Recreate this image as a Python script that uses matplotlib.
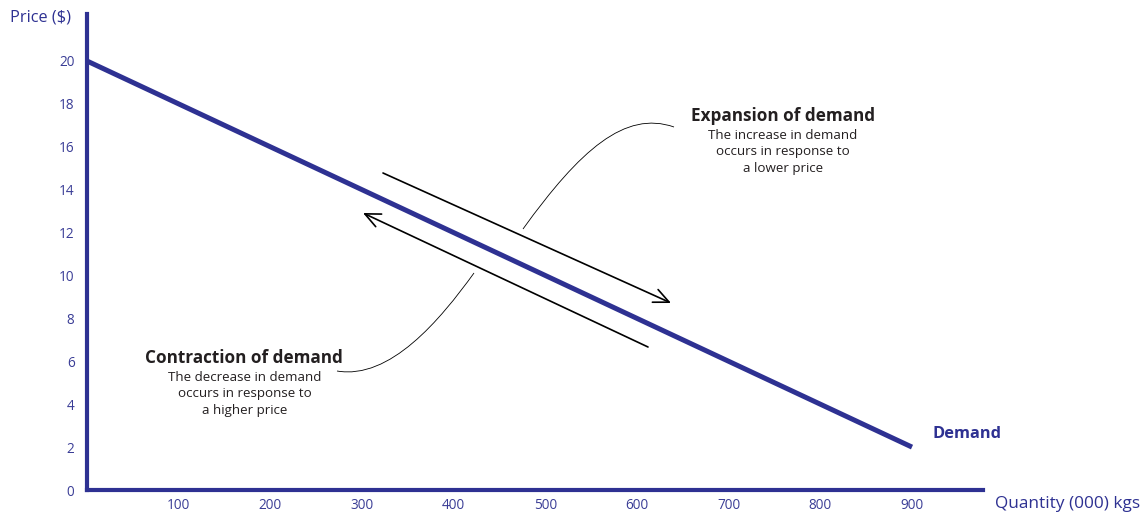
import matplotlib
matplotlib.use("Agg")
import matplotlib.pyplot as plt
from matplotlib.path import Path
from matplotlib.patches import PathPatch

# Demand schedule
quantity = [0, 900]
price = [20, 2]

quantity_ticks = [100, 200, 300, 400, 500, 600, 700, 800, 900]
price_ticks = [0, 2, 4, 6, 8, 10, 12, 14, 16, 18, 20]

NAVY = "#2e3192"
TICK = "#3a3d96"
INK = "#231f20"

plt.rcParams["font.family"] = ["Open Sans", "DejaVu Sans"]

W, H = 1142, 512
fig = plt.figure(figsize=(W / 100, H / 100), dpi=100)

# axes box in pixels: x 87..983, y 14..490
x0, x1, y0, y1 = 87, 983, 14, 490
ax = fig.add_axes([x0 / W, 1 - y1 / H, (x1 - x0) / W, (y1 - y0) / H])

# scale: x=0 at px 87, x=900 at px 912; y=0 at px 490, y=20 at px 61
sx = (912 - 87) / 900
sy = (490 - 61) / 20
ax.set_xlim(0, (x1 - x0) / sx)
ax.set_ylim(0, (y1 - y0) / sy)

for s in ("top", "right"):
    ax.spines[s].set_visible(False)
for s in ("left", "bottom"):
    ax.spines[s].set_color(NAVY)
    ax.spines[s].set_linewidth(3.0)

ax.set_xticks(quantity_ticks)
ax.set_yticks(price_ticks)
ax.set_xticklabels([str(v) for v in quantity_ticks])
ax.set_yticklabels([str(v) for v in price_ticks])
ax.tick_params(axis="both", length=0, labelcolor=TICK, labelsize=9.8)
ax.tick_params(axis="y", pad=9)
ax.tick_params(axis="x", pad=6)


def px(xp, yp):
    """Convert pixel position to data coordinates."""
    return ((xp - 87) / sx, (490 - yp) / sy)


# Demand curve
ax.plot(quantity, price, color=NAVY, lw=3.6, solid_capstyle="butt", zorder=3)
ax.text(*px(932, 434), "Demand", color=NAVY, fontsize=11.8, fontweight="bold",
        ha="left", va="center")

# Movement arrows along the curve
arrow_kw = dict(arrowstyle="->,head_length=1.1,head_width=0.5", color="black",
                lw=1.2, shrinkA=0, shrinkB=0)
ax.annotate("", xy=px(671, 303), xytext=px(383, 173), arrowprops=arrow_kw)
ax.annotate("", xy=px(363, 213), xytext=px(648, 347), arrowprops=arrow_kw)

# Callout curves
def bezier(points):
    verts = [px(*p) for p in points]
    codes = [Path.MOVETO, Path.CURVE4, Path.CURVE4, Path.CURVE4]
    ax.add_patch(PathPatch(Path(verts, codes), fill=False, color="black",
                           lw=0.6, zorder=2))

bezier([(523, 229), (580, 150), (625, 110), (674, 127)])
bezier([(474, 273), (440, 320), (390, 380), (337, 371)])

# Annotations
ax.text(*px(783, 116), "Expansion of demand", fontsize=12.3, fontweight="bold",
        color=INK, ha="center", va="center")
ax.text(*px(783, 152), "The increase in demand\noccurs in response to\na lower price",
        fontsize=9.6, color=INK, ha="center", va="center", linespacing=1.35)

ax.text(*px(244, 358), "Contraction of demand", fontsize=12.3, fontweight="bold",
        color=INK, ha="center", va="center")
ax.text(*px(245, 394), "The decrease in demand\noccurs in response to\na higher price",
        fontsize=9.6, color=INK, ha="center", va="center", linespacing=1.35)

# Axis titles
fig.text(10 / W, 1 - 17 / H, "Price ($)", color=NAVY, fontsize=11.8,
         ha="left", va="center")
fig.text(995 / W, 1 - 504 / H, "Quantity (000) kgs", color=NAVY, fontsize=12.4,
         ha="left", va="center")

fig.savefig("out.png", dpi=100)
